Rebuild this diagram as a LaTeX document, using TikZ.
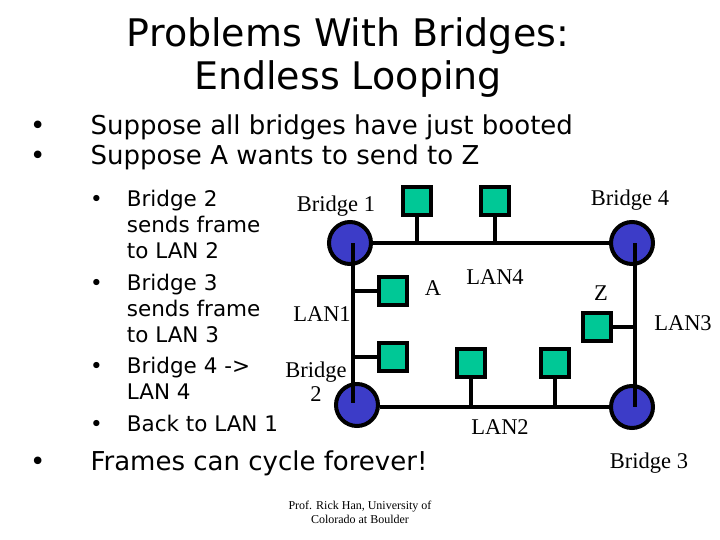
\documentclass[tikz,border=0pt]{standalone}
\usepackage{fontspec}
\setmainfont{Liberation Serif}
\newfontfamily\sansf{DejaVu Sans}
\begin{document}
\begin{tikzpicture}[x=1pt,y=-1pt,
  br/.style={circle,draw=black,line width=4pt,fill={rgb,255:red,60;green,60;blue,200},minimum size=42pt,inner sep=0pt},
  hst/.style={draw=black,line width=3.5pt,fill={rgb,255:red,0;green,200;blue,150},minimum size=28pt,inner sep=0pt},
  ln/.style={line width=4pt},
  lab/.style={font=\fontsize{22.5}{24}\selectfont,inner sep=0pt},
  bul/.style={font=\sansf\fontsize{26}{30}\selectfont,anchor=west,inner sep=0pt},
  sub/.style={font=\sansf\fontsize{21.5}{26}\selectfont,anchor=north west,inner sep=0pt,align=left}]
\useasboundingbox (0,0) rectangle (720,540);
\node[font=\sansf\fontsize{38}{43}\selectfont,align=center] (t) at (348,58) {Problems With Bridges:\\Endless Looping};
\node[bul] (b1) at (30,127) {•\hspace{45pt}Suppose all bridges have just booted};
\node[bul] (b2) at (30,157) {•\hspace{45pt}Suppose A wants to send to Z};
\node[sub] (s1) at (90,190) {•\hspace{24pt}\parbox[t]{160pt}{Bridge 2\\sends frame\\to LAN 2}};
\node[sub] (s2) at (90,274) {•\hspace{24pt}\parbox[t]{160pt}{Bridge 3\\sends frame\\to LAN 3}};
\node[sub] (s3) at (90,357) {•\hspace{24pt}\parbox[t]{160pt}{Bridge 4 ->\\LAN 4}};
\node[sub] (s4) at (90,415) {•\hspace{24pt}Back to LAN 1};
\node[bul] (b3) at (30,463) {•\hspace{45pt}Frames can cycle forever!};
\node[font=\fontsize{12}{14}\selectfont,align=center] (f) at (360,512) {Prof. Rick Han, University of\\Colorado at Boulder};
% bridges
\node[br] (B1) at (350,243) {};
\node[br] (B4) at (632,243) {};
\node[br] (B2) at (357,405) {};
\node[br] (B3) at (632,407) {};
% LANs
\draw[ln] (B1) -- (B4);
\draw[ln] (353,243) -- (353,403);
\draw[ln] (B2.east |- 0,407) -- (B3.west |- 0,407);
\draw[ln] (635,243) -- (635,407);
% hosts
\node[hst] (h1) at (417,201) {};
\node[hst] (h2) at (495,201) {};
\node[hst] (hA) at (393,291) {};
\node[hst] (h3) at (393,357) {};
\node[hst] (hZ) at (597,327) {};
\node[hst] (h4) at (471,363) {};
\node[hst] (h5) at (555,363) {};
\coordinate (c1) at (417,243); \coordinate (c2) at (495,243);
\coordinate (cA) at (353,291); \coordinate (c3) at (353,357);
\coordinate (cZ) at (635,327);
\coordinate (c4) at (471,407); \coordinate (c5) at (555,407);
\draw[ln] (h1) -- (c1); \draw[ln] (h2) -- (c2);
\draw[ln] (hA) -- (cA); \draw[ln] (h3) -- (c3);
\draw[ln] (hZ) -- (cZ); \draw[ln] (h4) -- (c4); \draw[ln] (h5) -- (c5);
% labels
\node[lab] (l1) at (336,206) {Bridge 1};
\node[lab] (l4) at (630,200) {Bridge 4};
\node[lab] (lA) at (433,288) {A};
\node[lab] (lL4) at (495,277) {LAN4};
\node[lab] (lZ) at (601,293) {Z};
\node[lab] (lL1) at (322,314) {LAN1};
\node[lab] (lL3) at (683,323) {LAN3};
\node[lab,align=center] (l2) at (316,382) {Bridge\\2};
\node[lab] (lL2) at (500,427) {LAN2};
\node[lab] (l3) at (649,463) {Bridge 3};
\end{tikzpicture}
\end{document}
